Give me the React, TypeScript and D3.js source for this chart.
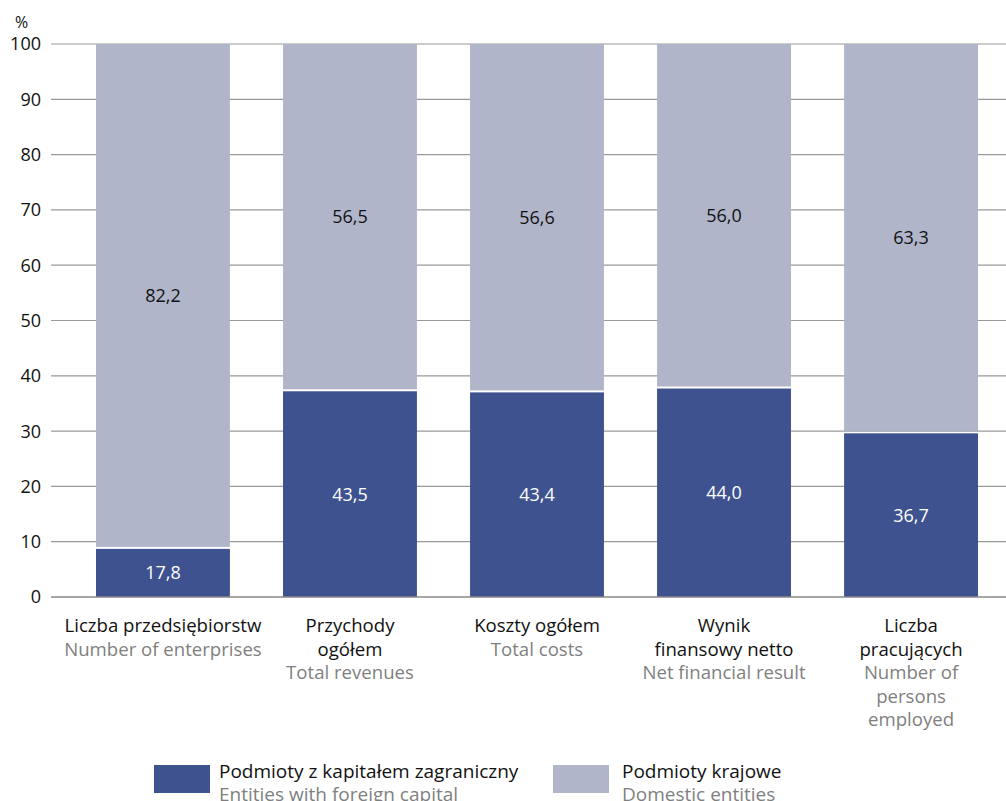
import React from "react";
import * as d3 from "d3";

const categoriesPL: string[][] = [
  ["Liczba przedsiębiorstw"],
  ["Przychody", "ogółem"],
  ["Koszty ogółem"],
  ["Wynik", "finansowy netto"],
  ["Liczba", "pracujących"],
];
const categoriesEN: string[][] = [
  ["Number of enterprises"],
  ["Total revenues"],
  ["Total costs"],
  ["Net financial result"],
  ["Number of", "persons", "employed"],
];
// values as printed on the chart
const foreignLabels = ["17,8", "43,5", "43,4", "44,0", "36,7"];
const domesticLabels = ["82,2", "56,5", "56,6", "56,0", "63,3"];
// drawn heights of the foreign segment
const foreignDrawn = [8.7, 37.2, 37.0, 37.7, 29.6];
const yTicks = [0, 10, 20, 30, 40, 50, 60, 70, 80, 90, 100];

const DARK = "#3e528f";
const LIGHT = "#b0b5c9";
const FONT = "'Open Sans', sans-serif";

export default function App() {
  const W = 1006, H = 801;
  const y = d3.scaleLinear().domain([0, 100]).range([597, 44]);
  const x = d3.scaleBand<number>().domain(d3.range(5)).range([96, 978]).paddingInner(0.284).paddingOuter(0);
  const bw = x.bandwidth();
  return (
    <svg width={W} height={H} style={{ position: "absolute", left: 0, top: 0, fontFamily: FONT }}>
      {yTicks.map((t) => (
        <g key={t}>
          {t > 0 && <line x1={51} x2={W} y1={y(t)} y2={y(t)} stroke="#999" strokeWidth={1.2} />}
          <text x={41} y={y(t)} dy="0.36em" textAnchor="end" fontSize={18} fill="#111">{t}</text>
        </g>
      ))}
      <text x={15} y={28} fontSize={16} fill="#111">%</text>
      {foreignDrawn.map((v, i) => {
        const x0 = x(i)!;
        const cx = x0 + bw / 2;
        return (
          <g key={i}>
            <rect x={x0} y={y(100)} width={bw} height={y(v) - 2 - y(100)} fill={LIGHT} />
            <rect x={x0} y={y(v)} width={bw} height={y(0) - y(v)} fill={DARK} />
            <text x={cx} y={(y(v) + y(0)) / 2} dy="0.36em" textAnchor="middle" fontSize={18} fill="#fff">{foreignLabels[i]}</text>
            <text x={cx} y={(y(100) + y(v) - 2) / 2} dy="0.36em" textAnchor="middle" fontSize={18} fill="#111">{domesticLabels[i]}</text>
            {[...categoriesPL[i], ...categoriesEN[i]].map((s, j) => (
              <text key={j} x={cx} y={632 + j * 23.5} textAnchor="middle" fontSize={18.6}
                fill={j < categoriesPL[i].length ? "#111" : "#7f7f7f"}>{s}</text>
            ))}
          </g>
        );
      })}
      <line x1={51} x2={W} y1={y(0)} y2={y(0)} stroke="#888" strokeWidth={1.6} />
      <rect x={154} y={765} width={56} height={28} fill={DARK} />
      <text x={219} y={778} fontSize={19} fill="#111">Podmioty z kapitałem zagraniczny</text>
      <text x={219} y={801} fontSize={19} fill="#7f7f7f">Entities with foreign capital</text>
      <rect x={553} y={765} width={56} height={28} fill={LIGHT} />
      <text x={622} y={778} fontSize={19} fill="#111">Podmioty krajowe</text>
      <text x={622} y={801} fontSize={19} fill="#7f7f7f">Domestic entities</text>
    </svg>
  );
}
